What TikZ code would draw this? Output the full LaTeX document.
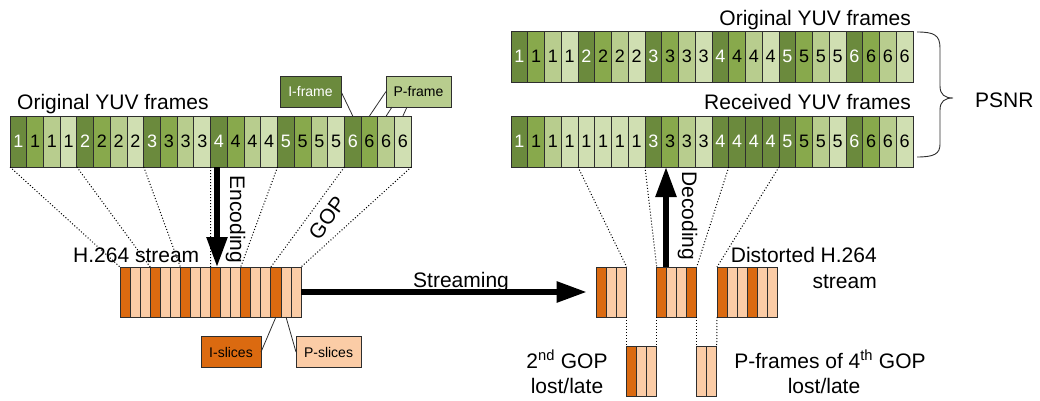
\documentclass[tikz,border=0pt]{standalone}
\usepackage{fontspec}
\setmainfont{Liberation Sans}
\usetikzlibrary{arrows.meta}
\definecolor{gA}{HTML}{6B8A3D}
\definecolor{gB}{HTML}{88A94C}
\definecolor{gC}{HTML}{B8CD8E}
\definecolor{gD}{HTML}{D0DFB2}
\definecolor{oA}{HTML}{DB6A10}
\definecolor{oB}{HTML}{FBCCA6}
\definecolor{edge}{HTML}{2E2E2E}
\begin{document}
\begin{tikzpicture}[x=1pt,y=-1pt,
  fcell/.style={draw=edge, line width=0.9pt, inner sep=0pt, outer sep=0pt,
    minimum width=16.72pt, minimum height=51pt, font=\fontsize{18}{18}\selectfont},
  scell/.style={draw=edge, line width=0.9pt, inner sep=0pt, outer sep=0pt,
    minimum width=10.06pt, minimum height=50pt},
  lbl/.style={inner sep=0pt, font=\fontsize{21}{25}\selectfont},
  tag/.style={draw=edge, line width=0.9pt, inner sep=0pt, outer sep=0pt,
    minimum width=61pt, minimum height=31pt, font=\fontsize{14}{14}\selectfont},
  dots/.style={line width=1pt, dash pattern=on 1pt off 2pt},
  callout/.style={line width=0.8pt, draw=edge},
  bigarrow/.style={line width=5.5pt, -{Triangle[length=30pt,width=20pt]}}
]
\useasboundingbox (0,0) rectangle (1040,401);

% left original frames
\foreach \g in {1,...,6}{
  \foreach \j/\c/\t in {1/gA/white,2/gB/black,3/gC/black,4/gD/black}{
    \pgfmathtruncatemacro\i{(\g-1)*4+\j}
    \node[fcell, fill=\c, text=\t] (L\i) at ({10+(\i-0.5)*16.72},141.5) {\g};
  }
}
% right original frames
\foreach \g in {1,...,6}{
  \foreach \j/\c/\t in {1/gA/white,2/gB/black,3/gC/black,4/gD/black}{
    \pgfmathtruncatemacro\i{(\g-1)*4+\j}
    \node[fcell, fill=\c, text=\t] (O\i) at ({511+(\i-0.5)*16.75},56.5) {\g};
  }
}
% received frames
\foreach [count=\i] \d/\c/\t in {1/gA/white,1/gB/black,1/gC/black,1/gD/black,
    1/gD/black,1/gD/black,1/gD/black,1/gD/black,
    3/gA/white,3/gB/black,3/gC/black,3/gD/black,
    4/gA/white,4/gA/white,4/gA/white,4/gA/white,
    5/gA/white,5/gB/black,5/gC/black,5/gD/black,
    6/gA/white,6/gB/black,6/gC/black,6/gD/black}{
  \node[fcell, fill=\c, text=\t] (R\i) at ({511+(\i-0.5)*16.75},141.5) {\d};
}

% H.264 stream
\foreach [count=\i] \c in {oA,oB,oB,oA,oB,oB,oA,oB,oB,oA,oB,oB,oA,oB,oB,oA,oB,oB}{
  \node[scell, fill=\c] (S\i) at ({120+(\i-0.5)*10.06},292) {};
}

% distorted stream groups
\foreach [count=\i] \c in {oA,oB,oB}{
  \node[scell, fill=\c, minimum width=10pt] (A\i) at ({596.7+(\i-0.5)*10},292) {};}
\foreach [count=\i] \c in {oA,oB,oB,oA}{
  \node[scell, fill=\c, minimum width=10pt] (B\i) at ({656.7+(\i-0.5)*10},292) {};}
\foreach [count=\i] \c in {oA,oB,oB,oA,oB,oB}{
  \node[scell, fill=\c, minimum width=10pt] (C\i) at ({717+(\i-0.5)*10},292) {};}
% lost parts
\foreach [count=\i] \c in {oA,oB,oB}{
  \node[scell, fill=\c, minimum width=10pt] (E\i) at ({626.7+(\i-0.5)*10},371.7) {};}
\foreach [count=\i] \c in {oB,oB}{
  \node[scell, fill=\c, minimum width=10pt] (F\i) at ({696.7+(\i-0.5)*10},371.7) {};}

% GOP mapping lines (left)
\draw[dots] (L1.south west) -- (S1.north west);
\draw[dots] (L4.south east) -- (S3.north east);
\draw[dots] (L8.south east) -- (S6.north east);
\draw[dots] (L12.south east) -- (S9.north east);
\draw[dots] (L16.south east) -- (S12.north east);
\draw[dots] (L20.south east) -- (S15.north east);
\draw[dots] (L24.south east) -- (S18.north east);

% mapping lines (right)
\draw[dots] (R4.south east) -- (A3.north east);
\draw[dots] (R8.south east) -- (B1.north west);
\draw[dots] (R13.south east) -- (B4.north east);
\draw[dots] (R16.south east) -- (C1.north west);
\draw[dots] (A3.south east) -- (E1.north west);
\draw[dots] (B1.south west) -- (E3.north east);
\draw[dots] (B4.south east) -- (F1.north west);
\draw[dots] (C1.south west) -- (F2.north east);

% tags
\node[tag, fill=gA, text=white] (Iframe) at (310.5,91.5) {I-frame};
\node[tag, fill=gC, minimum width=65pt] (Pframe) at (418.5,91.5) {P-frame};
\draw[callout] (Iframe.east) -- (L21.north);
\draw[callout] (Pframe.west) -- (L22.north);
\draw[callout] ([xshift=6pt]Pframe.south west) -- (L23.north);
\draw[callout] ([xshift=21pt]Pframe.south west) -- (L24.north);

\node[tag, fill=oA, minimum width=60pt] (Islices) at (231,352) {I-slices};
\node[tag, fill=oB, minimum width=65pt] (Pslices) at (328.5,352) {P-slices};
\draw[callout] (Islices.east) -- (S16.south);
\draw[callout] (S17.south) -- (Pslices.west);

% arrows
\coordinate (encTop) at (217,167);
\draw[bigarrow] (encTop) -- (encTop |- S10.north);
\coordinate (decBot) at (666,267);
\draw[bigarrow] (decBot) -- (decBot |- R10.south);
\draw[bigarrow] (S18.east) -- ([xshift=-10pt]A1.west);

% labels
\node[lbl, anchor=base west] (lblOrigL) at (17,110) {Original YUV frames};
\node[lbl, anchor=base east] (lblOrigR) at (911,26) {Original YUV frames};
\node[lbl, anchor=base east] (lblRecv) at (911,110) {Received YUV frames};
\node[lbl, anchor=base west] (lblH264) at (73,262) {H.264 stream};
\node[lbl, anchor=base west] (lblStream) at (413,287) {Streaming};
\node[lbl, rotate=-90] (lblEnc) at (235.5,219.5) {Encoding};
\node[lbl, rotate=-90] (lblDec) at (687.5,216) {Decoding};
\node[lbl, rotate=54] (lblGOP) at (327,218) {GOP};
\node[lbl, anchor=base east] (lblDist1) at (877,262) {Distorted H.264};
\node[lbl, anchor=base east] (lblDist2) at (877,288) {stream};
\node[lbl, anchor=base] (lblLost1) at (567,368) {2\textsuperscript{nd} GOP};
\node[lbl, anchor=base] (lblLost2) at (567,393) {lost/late};
\node[lbl, anchor=base] (lblLost3) at (830,368) {P-frames of 4\textsuperscript{th} GOP};
\node[lbl, anchor=base] (lblLost4) at (824,393) {lost/late};
\node[lbl, anchor=base west] (lblPSNR) at (975,108) {PSNR};

% brace
\draw[line width=0.9pt, draw=edge] (917,32) .. controls (934,32) and (940,35) .. (940,48)
  -- (940,86) .. controls (940,95) and (945,98) .. (953,98)
  .. controls (945,98) and (940,101) .. (940,110)
  -- (940,144) .. controls (940,154) and (934,157) .. (917,157);
\end{tikzpicture}
\end{document}
